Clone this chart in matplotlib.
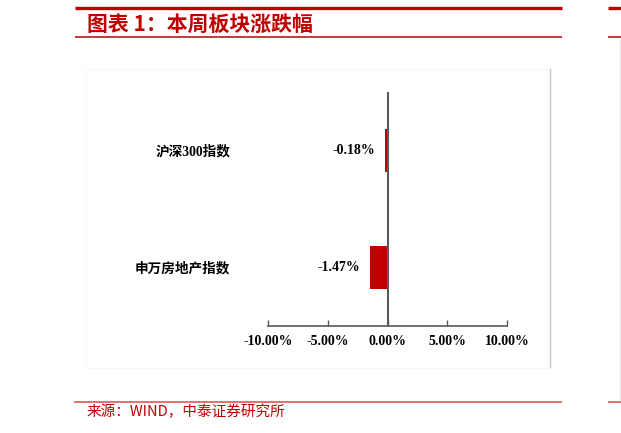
import matplotlib
matplotlib.use("Agg")
import matplotlib.pyplot as plt
from matplotlib.lines import Line2D
from matplotlib.patches import Rectangle

# ---- data ----
categories = ["申万房地产指数", "沪深300指数"]
values = [-1.47, -0.18]
value_labels = ["-1.47%", "-0.18%"]
xticks = [-10, -5, 0, 5, 10]
xtick_labels = ["-10.00%", "-5.00%", "0.00%", "5.00%", "10.00%"]
title = "图表 1：本周板块涨跌幅"
source = "来源：WIND，中泰证券研究所"

W, H = 621, 433
fig = plt.figure(figsize=(W / 100, H / 100), dpi=100)
fig.patch.set_facecolor("white")

def fx(x):
    return x / W

def fy(y):
    return 1 - y / H

RED = "#C00000"
AXC = "#595959"
SERIF_CJK = ["Liberation Serif", "Noto Sans CJK SC"]
CJK = ["Noto Sans CJK SC", "DejaVu Sans"]

# ---- page decorations ----
def hline(x0, x1, y, color, lw):
    fig.add_artist(Line2D([fx(x0), fx(x1)], [fy(y), fy(y)], transform=fig.transFigure,
                          color=color, lw=lw, solid_capstyle="butt"))

hline(75, 562, 7.5, RED, 2.4)
hline(75, 562, 37, RED, 1.1)
hline(74, 562, 402, "#E06666", 1.3)
# next column fragments
hline(608, 621, 7.5, RED, 2.4)
hline(608, 621, 37, RED, 1.1)
hline(608, 621, 402, "#E06666", 1.3)

fig.text(fx(87), fy(24), title, color=RED, fontsize=15, fontweight="bold",
         family=CJK, ha="left", va="center")
fig.text(fx(87), fy(412), source, color=RED, fontsize=10.5,
         family=CJK, ha="left", va="center")

# chart frame
fig.add_artist(Rectangle((fx(86), fy(368)), fx(550) - fx(86), fy(69) - fy(368),
                         transform=fig.transFigure, fill=False, edgecolor="#F7F7F7", lw=0.8))
fig.add_artist(Line2D([fx(550), fx(550)], [fy(69), fy(367)], transform=fig.transFigure,
                      color="#C8C8C8", lw=1.0))
fig.add_artist(Line2D([fx(620), fx(620)], [fy(40), fy(400)], transform=fig.transFigure,
                      color="#E6E6E6", lw=0.8))

# ---- axes ----
ax = fig.add_axes([fx(268), fy(326), fx(507) - fx(268), fy(92) - fy(326)])
ypos = list(range(len(categories)))
ax.barh(ypos, values, height=0.36, color=RED, zorder=2)
ax.axvline(0, color=AXC, lw=1.5, zorder=3)

ax.set_xlim(-10, 10)
ax.set_ylim(-0.5, 1.5)
ax.set_xticks(xticks)
ax.set_xticklabels(xtick_labels)
ax.set_yticks(ypos)
ax.set_yticklabels(categories)

for s in ["left", "right", "top"]:
    ax.spines[s].set_visible(False)
ax.spines["bottom"].set_color(AXC)
ax.spines["bottom"].set_linewidth(1.2)

ax.tick_params(axis="x", direction="in", length=4, width=1.0, color=AXC, pad=6.5)
ax.tick_params(axis="y", length=0, pad=27)
for lab in ax.get_xticklabels():
    lab.set_fontfamily(SERIF_CJK)
    lab.set_fontweight("bold")
    lab.set_fontsize(10)
    lab.set_color("black")
for lab in ax.get_yticklabels():
    lab.set_fontfamily(SERIF_CJK)
    lab.set_fontweight("bold")
    lab.set_fontsize(9.8)
    lab.set_color("black")

for y, v, t in zip(ypos, values, value_labels):
    ax.annotate(t, xy=(v, y), xytext=(-10, 0), textcoords="offset pixels",
                ha="right", va="center", fontsize=10, fontweight="bold",
                family=SERIF_CJK, color="black")

ax.set_facecolor("none")
fig.savefig("out.png", dpi=100, facecolor="white")
